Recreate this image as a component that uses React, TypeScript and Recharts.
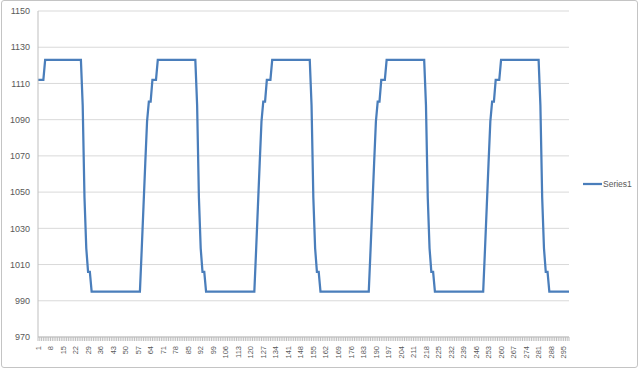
import { LineChart, Line, XAxis, YAxis, CartesianGrid, Legend } from 'recharts';

// Series1 values, one per category (categories run 1..298), ten per row
const series1 = [
  1112, 1112, 1112, 1112, 1123, 1123, 1123, 1123, 1123, 1123, // 1-10
  1123, 1123, 1123, 1123, 1123, 1123, 1123, 1123, 1123, 1123, // 11-20
  1123, 1123, 1123, 1123, 1123, 1098, 1047, 1019, 1006, 1006, // 21-30
  995, 995, 995, 995, 995, 995, 995, 995, 995, 995, // 31-40
  995, 995, 995, 995, 995, 995, 995, 995, 995, 995, // 41-50
  995, 995, 995, 995, 995, 995, 995, 995, 1018, 1042, // 51-60
  1066, 1089, 1100, 1100, 1112, 1112, 1112, 1123, 1123, 1123, // 61-70
  1123, 1123, 1123, 1123, 1123, 1123, 1123, 1123, 1123, 1123, // 71-80
  1123, 1123, 1123, 1123, 1123, 1123, 1123, 1123, 1123, 1098, // 81-90
  1047, 1019, 1006, 1006, 995, 995, 995, 995, 995, 995, // 91-100
  995, 995, 995, 995, 995, 995, 995, 995, 995, 995, // 101-110
  995, 995, 995, 995, 995, 995, 995, 995, 995, 995, // 111-120
  995, 995, 1018, 1042, 1066, 1089, 1100, 1100, 1112, 1112, // 121-130
  1112, 1123, 1123, 1123, 1123, 1123, 1123, 1123, 1123, 1123, // 131-140
  1123, 1123, 1123, 1123, 1123, 1123, 1123, 1123, 1123, 1123, // 141-150
  1123, 1123, 1123, 1098, 1047, 1019, 1006, 1006, 995, 995, // 151-160
  995, 995, 995, 995, 995, 995, 995, 995, 995, 995, // 161-170
  995, 995, 995, 995, 995, 995, 995, 995, 995, 995, // 171-180
  995, 995, 995, 995, 995, 995, 1018, 1042, 1066, 1089, // 181-190
  1100, 1100, 1112, 1112, 1112, 1123, 1123, 1123, 1123, 1123, // 191-200
  1123, 1123, 1123, 1123, 1123, 1123, 1123, 1123, 1123, 1123, // 201-210
  1123, 1123, 1123, 1123, 1123, 1123, 1123, 1098, 1047, 1019, // 211-220
  1006, 1006, 995, 995, 995, 995, 995, 995, 995, 995, // 221-230
  995, 995, 995, 995, 995, 995, 995, 995, 995, 995, // 231-240
  995, 995, 995, 995, 995, 995, 995, 995, 995, 995, // 241-250
  1018, 1042, 1066, 1089, 1100, 1100, 1112, 1112, 1112, 1123, // 251-260
  1123, 1123, 1123, 1123, 1123, 1123, 1123, 1123, 1123, 1123, // 261-270
  1123, 1123, 1123, 1123, 1123, 1123, 1123, 1123, 1123, 1123, // 271-280
  1123, 1098, 1047, 1019, 1006, 1006, 995, 995, 995, 995, // 281-290
  995, 995, 995, 995, 995, 995, 995, 995, // 291-298
];

const xTickLabels = [
  1, 8, 15, 22, 29, 36, 43, 50, 57, 64, 71, 78, 85, 92, 99, 106, 113, 120, 127, 134, 141, 148,
  155, 162, 169, 176, 183, 190, 197, 204, 211, 218, 225, 232, 239, 246, 253, 260, 267, 274, 281,
  288, 295,
];

const yTicks = [970, 990, 1010, 1030, 1050, 1070, 1090, 1110, 1130, 1150];

const data = series1.map((v, i) => ({ cat: i + 1, Series1: v }));

const FONT = '"Liberation Sans", Arial, sans-serif';
const TEXT = '#595959';
const AXIS = '#bfbfbf';

function XTick(props: any) {
  const { x, y, payload } = props;
  const showLabel = xTickLabels.includes(payload.value);
  const ty = y + 9;
  return (
    <g>
      <line x1={x} y1={y} x2={x} y2={y + 4} stroke={AXIS} strokeWidth={1} />
      {showLabel && (
        <text
          x={x}
          y={ty}
          transform={`rotate(-90 ${x} ${ty})`}
          textAnchor="end"
          dy="0.35em"
          fontSize={7.5}
          fontFamily={FONT}
          fill={TEXT}
        >
          {payload.value}
        </text>
      )}
    </g>
  );
}

function LegendContent(props: any) {
  const item = (props.payload || [])[0];
  if (!item) return null;
  return (
    <div style={{ display: 'flex', alignItems: 'center', fontFamily: FONT, fontSize: 8.5, color: TEXT }}>
      <svg width={19} height={6} style={{ display: 'block' }}>
        <line x1={0} y1={3} x2={19} y2={3} stroke={item.color} strokeWidth={2.25} />
      </svg>
      <span style={{ marginLeft: 1, whiteSpace: 'nowrap' }}>{item.value}</span>
    </div>
  );
}

export default function App() {
  return (
    <div style={{ position: 'relative', width: 640, height: 371, background: '#fff', fontFamily: FONT }}>
      <style>{'body{margin:0}'}</style>
      <div
        style={{
          position: 'absolute',
          left: 1,
          top: 0,
          width: 637,
          height: 368,
          border: '1px solid #c4c4c4',
          borderRadius: 3,
          boxSizing: 'border-box',
          pointerEvents: 'none',
        }}
      />
      <LineChart width={640} height={371} data={data} margin={{ top: 11, right: 71, bottom: 0, left: 0 }}>
        <CartesianGrid vertical={false} stroke="#d9d9d9" />
        <XAxis
          dataKey="cat"
          type="category"
          interval={0}
          height={34}
          tickSize={0}
          tickMargin={0}
          axisLine={{ stroke: AXIS }}
          tickLine={false}
          tick={<XTick />}
        />
        <YAxis
          domain={[970, 1150]}
          ticks={yTicks}
          width={38}
          tickSize={0}
          tickMargin={8}
          axisLine={{ stroke: AXIS }}
          tickLine={false}
          tick={{ fontSize: 9, fill: TEXT, fontFamily: FONT }}
        />
        <Legend
          align="center"
          verticalAlign="middle"
          layout="vertical"
          content={<LegendContent />}
          wrapperStyle={{ left: 583, top: 179, width: 'auto', height: 'auto' }}
        />
        <Line
          type="linear"
          dataKey="Series1"
          name="Series1"
          stroke="#4a7ebb"
          strokeWidth={2.25}
          dot={false}
          activeDot={false}
          isAnimationActive={false}
        />
      </LineChart>
    </div>
  );
}
